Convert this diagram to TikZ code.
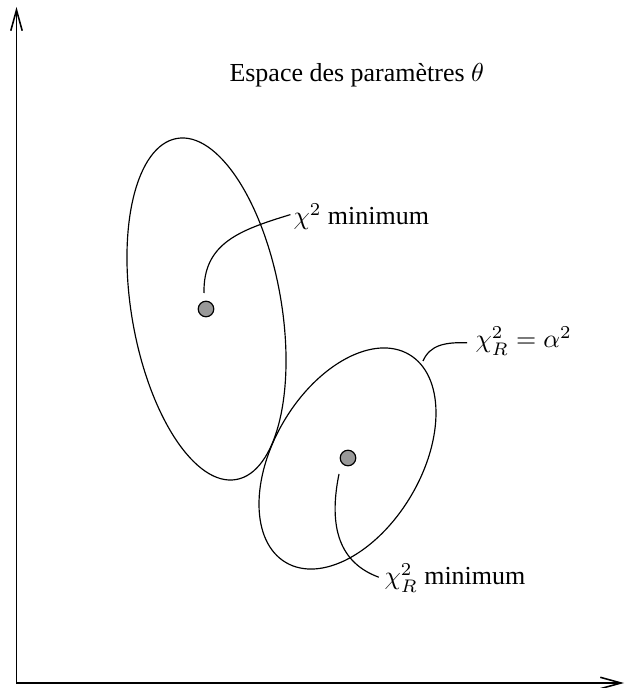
\documentclass[tikz,border=0pt]{standalone}
\usepackage{fontspec}
\setmainfont{Liberation Serif}
\usetikzlibrary{arrows.meta}
\begin{document}
\begin{tikzpicture}[x=0.385pt,y=0.385pt,
  axis/.style={line width=0.6pt,-{Straight Barb[length=8pt,width=4.4pt]}},
  contour/.style={line width=0.45pt},
  leader/.style={line width=0.45pt},
  mindot/.style={circle,draw,line width=0.45pt,fill=black!40,minimum size=6pt,inner sep=0pt},
  lbl/.style={inner sep=0pt,font=\fontsize{10pt}{12pt}\selectfont}]
\useasboundingbox (0,0) rectangle (626,688);
% axes
\coordinate (O) at (16.5,5);
\coordinate (ytop) at (16.5,681);
\coordinate (xright) at (624,5);
\draw[axis] (O) -- (ytop);
\draw[axis] (O) -- (xright);
% title
\node[lbl,anchor=base west] (title) at (229,606) {Espace des paramètres $\theta$};
% ellipses
\draw[contour,rotate around={9.85:(206.5,379)}] (206.5,379) ellipse [x radius=74.9,y radius=173.1];
\draw[contour,rotate around={-30.75:(347.5,229.5)}] (347.5,229.5) ellipse [x radius=73.7,y radius=120.9];
% minima
\node[mindot] (m1) at (206,379) {};
\node[mindot] (m2) at (348,230) {};
% labels
\node[lbl,anchor=base west] (l1) at (293,463) {$\chi^2$ minimum};
\node[lbl,anchor=base west] (l2) at (475,340) {$\chi^2_R=\alpha^2$};
\node[lbl,anchor=base west] (l3) at (384,103) {$\chi^2_R$ minimum};
% leaders
\coordinate (s1) at (204,395);
\coordinate (e1) at ([xshift=-1pt,yshift=4pt]l1.base west);
\draw[leader] (s1) .. controls (203,445) and (240,458) .. (e1);
\coordinate (s2) at (423,327);
\coordinate (e2) at ([xshift=-3pt,yshift=2pt]l2.base west);
\draw[leader] (s2) .. controls (430,343) and (445,346) .. (e2);
\coordinate (s3) at (339,214);
\coordinate (e3) at ([xshift=-2pt,yshift=3pt]l3.base west);
\draw[leader] (s3) .. controls (328,160) and (340,125) .. (e3);
\end{tikzpicture}
\end{document}
